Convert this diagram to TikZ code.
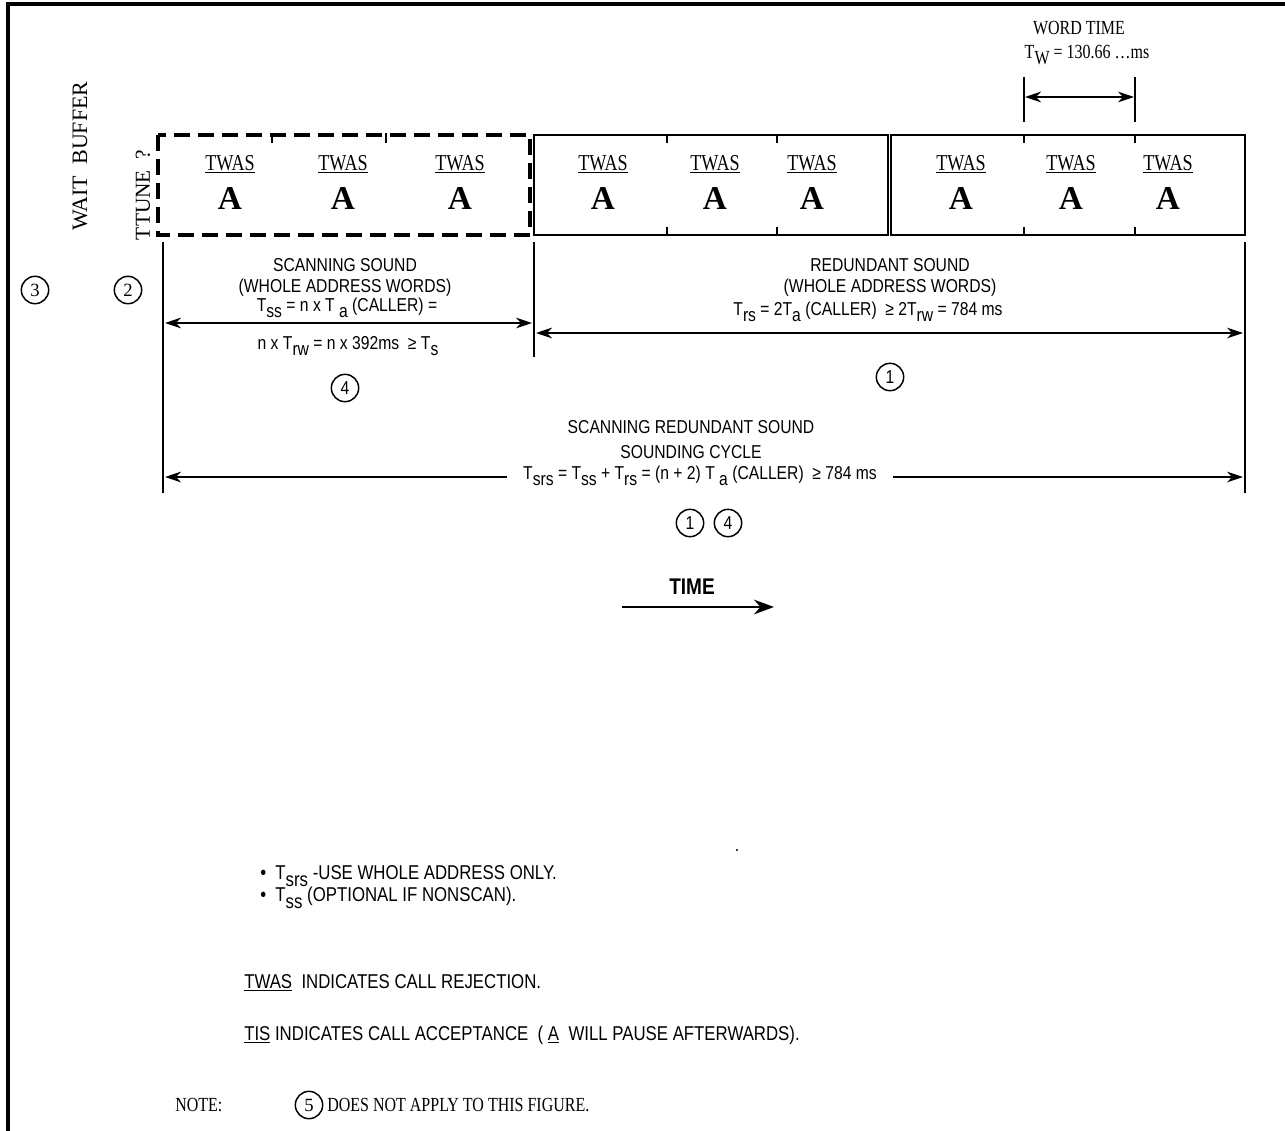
\documentclass[tikz,border=0pt]{standalone}
\usepackage{fontspec}
\usepackage{graphicx}
\setmainfont{Liberation Serif}
\setsansfont{Liberation Sans}
\newfontfamily\nsans[FakeStretch=0.84]{Liberation Sans}
\newfontfamily\nserif[FakeStretch=0.80]{Liberation Serif}
\usetikzlibrary{arrows.meta}
\newcommand\lo[1]{\raisebox{-0.6ex}{#1}}
\begin{document}
\begin{tikzpicture}[x=0.75pt,y=-0.75pt,
  sanstxt/.style={font=\nsans\fontsize{14}{16}\selectfont, inner sep=0pt},
  notetxt/.style={font=\nsans\fontsize{15}{17}\selectfont, inner sep=0pt, anchor=west},
  seriftxt/.style={font=\nserif\fontsize{15}{17}\selectfont, inner sep=0pt},
  twas/.style={font=\nserif\fontsize{17}{17}\selectfont, inner sep=0pt},
  bigA/.style={font=\rmfamily\bfseries\fontsize{25}{25}\selectfont, inner sep=0pt},
  circ/.style={draw, circle, line width=1.1pt, minimum size=20.5pt, inner sep=0pt},
  dimarrow/.style={line width=1.5pt, {Stealth[length=12pt,width=8pt]}-{Stealth[length=12pt,width=8pt]}},
  boxline/.style={line width=1.7pt},
  tick/.style={line width=1.6pt},
  ext/.style={line width=1.4pt}]
\useasboundingbox (0,0) rectangle (1285,1131);
% frame
\draw[line width=2.6pt] (8,1131) -- (8,4) -- (1285,4);

% boxes
\draw[line width=3.2pt, dash pattern=on 12pt off 6pt] (158,135) rectangle (530,235);
\draw[boxline] (534,135) rectangle (888,235);
\draw[boxline] (891,135) rectangle (1245,235);
\foreach \x in {272,386}{
  \draw[line width=1pt] (\x,133) -- (\x,143);
}
\foreach \x in {667,777,1024,1135}{
  \draw[tick] (\x,135) -- (\x,143);
  \draw[tick] (\x,227) -- (\x,235);
}

% word cells
\foreach \x [count=\i] in {230,343,460,603,715,812,961,1071,1168}{
  \node[twas] (tw\i) at (\x,164) {\underline{TWAS}};
  \node[bigA] (a\i) at (\x,198) {A};
}

% word time
\node[seriftxt] (wt) at (1079,28) {WORD TIME};
\node[seriftxt] (tw) at (1087,55) {T\lo{W} = 130.66 \dots ms};
\coordinate (w1t) at (1024,77); \coordinate (w1b) at (1024,122);
\coordinate (w2t) at (1135,77); \coordinate (w2b) at (1135,122);
\draw[ext] (w1t) -- (w1b);
\draw[ext] (w2t) -- (w2b);
\coordinate (wa1) at (1025,97); \coordinate (wa2) at (1134,97);
\draw[dimarrow] (wa1) -- (wa2);

% side labels
\node[font=\rmfamily\fontsize{16.5}{16}\selectfont, rotate=90, inner sep=0pt] (wb) at (80,156) {WAIT\ \ BUFFER};
\node[font=\rmfamily\fontsize{16}{16}\selectfont, rotate=90, inner sep=0pt] (tt) at (143,195) {TTUNE\ \ ?};
\node[circ, font=\rmfamily\fontsize{14}{14}\selectfont] (c3) at (35,290) {3};
\node[circ, font=\rmfamily\fontsize{14}{14}\selectfont] (c2) at (128,290) {2};

% extension lines
\coordinate (e1t) at (163,242); \coordinate (e1b) at (163,493);
\coordinate (e2t) at (534,242); \coordinate (e2b) at (534,357);
\coordinate (e3t) at (1245,242); \coordinate (e3b) at (1245,493);
\draw[ext] (e1t) -- (e1b);
\draw[ext] (e2t) -- (e2b);
\draw[ext] (e3t) -- (e3b);

% scanning sound
\node[sanstxt] (ss1) at (345,265) {SCANNING SOUND};
\node[sanstxt] (ss2) at (345,288) {(WHOLE ADDRESS WORDS)};
\node[sanstxt] (ss3) at (347,308) {T\lo{ss} = n x T \lo{a} (CALLER) =};
\node[sanstxt] (ss4) at (348,346) {n x T\lo{rw} = n x 392ms\ \ ≥ T\lo{s}};
\coordinate (sL) at (165,323); \coordinate (sR) at (532,323);
\draw[dimarrow] (sL) -- (sR);
\node[circ, font=\nsans\fontsize{14}{14}\selectfont] (c4a) at (345,388) {4};

% redundant sound
\node[sanstxt] (rs1) at (890,265) {REDUNDANT SOUND};
\node[sanstxt] (rs2) at (890,288) {(WHOLE ADDRESS WORDS)};
\node[sanstxt] (rs3) at (868,312) {T\lo{rs} = 2T\lo{a} (CALLER)\ \ ≥ 2T\lo{rw} = 784 ms};
\coordinate (rL) at (536,333); \coordinate (rR) at (1243,333);
\draw[dimarrow] (rL) -- (rR);
\node[circ, font=\nsans\fontsize{14}{14}\selectfont] (c1a) at (890,377) {1};

% scanning redundant sound
\node[sanstxt] (sr1) at (691,427) {SCANNING REDUNDANT SOUND};
\node[sanstxt] (sr2) at (691,452) {SOUNDING CYCLE};
\node[sanstxt, inner xsep=12pt] (sr3) at (700,476) {T\lo{srs} = T\lo{ss} + T\lo{rs} = (n + 2) T \lo{a} (CALLER)\ \ ≥ 784 ms};
\coordinate (cL) at (165,477); \coordinate (cR) at (1243,477);
\draw[line width=1.5pt, {Stealth[length=12pt,width=8pt]}-] (cL) -- (cL -| sr3.west);
\draw[line width=1.5pt, -{Stealth[length=12pt,width=8pt]}] (cR -| sr3.east) -- (cR);
\node[circ, font=\nsans\fontsize{14}{14}\selectfont] (c1b) at (690,523) {1};
\node[circ, font=\nsans\fontsize{14}{14}\selectfont] (c4b) at (728,523) {4};

% time
\node[font=\nsans\bfseries\fontsize{17}{17}\selectfont, inner sep=0pt] (time) at (692,587) {TIME};
\coordinate (t1) at (622,607); \coordinate (t2) at (774,607);
\draw[line width=1.9pt, -{Stealth[length=15pt,width=11pt]}] (t1) -- (t2);

% notes
\node[inner sep=0pt, font=\nsans\fontsize{14}{14}\selectfont] (dot) at (737,850) {.};
\node[notetxt] (b1) at (260,876) {\textbullet\ \ T\lo{srs} -USE WHOLE ADDRESS ONLY.};
\node[notetxt] (b2) at (260,898) {\textbullet\ \ T\lo{ss} (OPTIONAL IF NONSCAN).};
\node[notetxt] (n1) at (244,983) {\underline{TWAS}\ \ INDICATES CALL REJECTION.};
\node[notetxt] (n2) at (244,1035) {\underline{TIS} INDICATES CALL ACCEPTANCE\ \ ( \underline{A}\ \ WILL PAUSE AFTERWARDS).};
\node[seriftxt, anchor=west] (note) at (175,1105) {NOTE:};
\node[circ, font=\rmfamily\fontsize{14}{14}\selectfont] (c5) at (309,1105) {5};
\node[seriftxt, anchor=west] (note2) at (327,1105) {DOES NOT APPLY TO THIS FIGURE.};
\end{tikzpicture}
\end{document}
